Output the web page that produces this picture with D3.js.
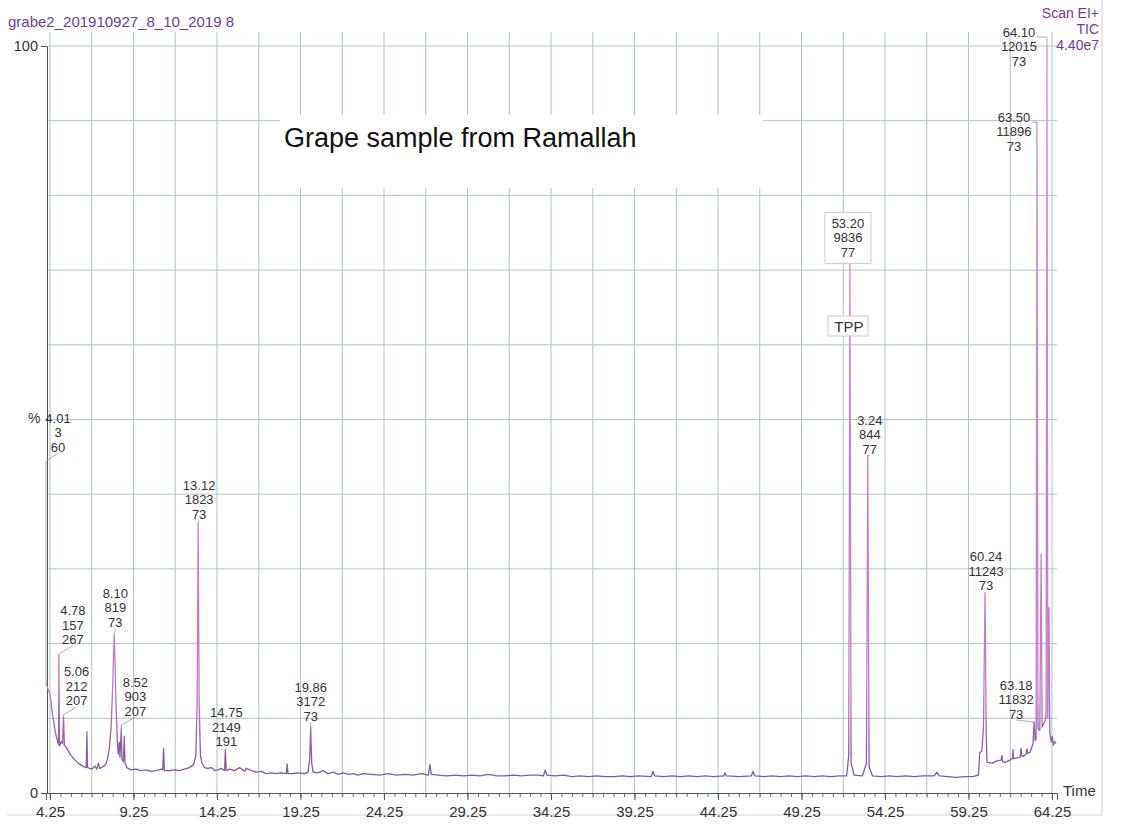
<!DOCTYPE html>
<html>
<head>
<meta charset="utf-8">
<script src="https://cdn.jsdelivr.net/npm/d3@7"></script>
<style>
    body { margin: 0; background: #fff; }
    svg text { font-family: "Liberation Sans", Arial, sans-serif; }
</style>
</head>
<body>
<svg id="chart" width="1124" height="827"></svg>
<script>
// TIC trace, [retention time (min), relative abundance (%)]
var trace = [
    [4.01,14.7],[4.25,13.2],[4.37,11.0],[4.47,9.6],[4.58,8.0],[4.70,6.9],[4.76,6.5],[4.78,18.5],[4.82,6.3],
    [4.92,6.9],[5.00,6.6],[5.06,10.2],[5.11,6.4],[5.25,6.0],[5.45,5.2],[5.70,4.5],[6.00,3.9],[6.30,3.5],
    [6.42,3.4],[6.46,8.2],[6.50,3.4],[6.75,3.2],[6.95,3.6],[7.05,3.2],[7.15,4.0],[7.22,3.3],[7.40,3.5],
    [7.58,3.8],[7.70,4.6],[7.80,6.0],[7.90,8.5],[8.00,14.0],[8.06,19.0],[8.10,21.1],[8.14,18.0],[8.20,12.0],
    [8.28,7.0],[8.34,5.2],[8.40,6.8],[8.44,4.8],[8.52,8.7],[8.56,4.5],[8.64,4.2],[8.70,7.6],[8.74,4.0],
    [8.85,3.4],[9.10,3.1],[9.40,3.2],[9.70,3.0],[10.0,3.1],[10.3,2.9],[10.6,3.0],[10.9,3.2],[11.00,3.1],
    [11.05,6.0],[11.10,3.0],[11.4,3.0],[11.7,3.1],[12.0,3.0],[12.3,3.2],[12.6,3.4],[12.85,3.8],[12.98,5.0],
    [13.06,12.0],[13.12,36.1],[13.18,12.0],[13.26,5.0],[13.35,4.0],[13.50,3.4],[13.70,3.3],[13.9,3.4],
    [14.1,3.0],[14.3,3.1],[14.5,3.3],[14.7,3.0],[14.75,5.8],[14.80,3.0],[15.0,3.2],[15.3,3.0],[15.6,3.4],
    [15.9,2.9],[16.0,3.3],[16.3,3.0],[16.6,2.8],[16.9,2.9],[17.2,2.6],[17.5,2.7],[17.8,2.6],[18.1,2.7],
    [18.40,2.6],[18.45,3.9],[18.5,2.6],[18.8,2.6],[19.1,2.7],[19.5,2.6],[19.70,2.8],[19.80,4.5],[19.86,8.8],
    [19.92,4.0],[20.0,2.8],[20.3,2.7],[20.6,3.0],[20.9,2.6],[21.2,2.8],[21.5,2.5],[21.8,2.7],[22.1,2.5],
    [22.4,2.6],[22.7,2.4],[23.0,2.6],[23.5,2.5],[24.0,2.4],[24.5,2.6],[25.0,2.4],[25.5,2.5],[26.0,2.4],
    [26.5,2.6],[26.90,2.4],[27.00,3.8],[27.08,2.5],[27.5,2.4],[28.0,2.3],[28.5,2.4],[29.0,2.3],[29.5,2.4],
    [30.0,2.3],[30.5,2.5],[31.0,2.3],[31.5,2.3],[32.0,2.4],[32.5,2.3],[33.0,2.4],[33.5,2.4],[33.80,2.3],
    [33.90,3.1],[34.0,2.4],[34.5,2.3],[35.0,2.4],[35.5,2.2],[36.0,2.3],[36.5,2.2],[37.0,2.3],[37.5,2.2],
    [38.0,2.2],[38.5,2.3],[39.0,2.2],[39.5,2.3],[40.25,2.2],[40.36,2.9],[40.45,2.3],[41.0,2.2],[41.5,2.3],
    [42.0,2.2],[42.5,2.3],[43.0,2.2],[43.5,2.3],[44.0,2.2],[44.6,2.3],[44.67,2.7],[44.75,2.3],[45.5,2.2],
    [46.25,2.3],[46.34,2.9],[46.45,2.3],[47.0,2.2],[47.5,2.3],[48.0,2.2],[48.5,2.3],[49.0,2.2],[49.5,2.3],
    [50.0,2.2],[50.5,2.3],[51.0,2.2],[51.5,2.3],[51.95,2.3],[52.08,5.0],[52.15,71.3],[52.22,4.0],[52.4,2.4],
    [52.9,2.3],[53.14,4.0],[53.22,45.2],[53.30,3.5],[53.5,2.3],[54.0,2.2],[54.5,2.3],[55.0,2.2],[55.5,2.3],
    [56.0,2.2],[56.5,2.3],[57.2,2.3],[57.36,2.8],[57.5,2.3],[58.0,2.2],[58.5,2.1],[59.0,2.2],[59.5,2.2],
    [59.85,2.4],[59.92,5.4],[60.05,5.6],[60.15,9.0],[60.24,26.8],[60.31,8.0],[60.36,4.1],[60.66,4.0],
    [60.96,4.3],[61.20,4.4],[61.25,5.0],[61.30,4.2],[61.43,4.1],[61.73,4.4],[61.88,4.6],[61.91,5.8],
    [61.95,4.6],[62.15,4.7],[62.35,4.8],[62.39,6.0],[62.44,5.0],[62.51,4.9],[62.70,5.2],[62.75,5.9],
    [62.80,5.3],[62.93,5.4],[63.05,6.2],[63.11,6.6],[63.18,9.5],[63.24,7.0],[63.30,7.4],[63.35,89.8],
    [63.41,8.6],[63.52,8.4],[63.60,32.0],[63.66,8.8],[63.80,9.5],[63.86,9.8],[63.90,11.0],[63.95,100],
    [64.00,10.0],[64.07,24.8],[64.12,8.0],[64.20,6.8],[64.27,7.6],[64.33,6.4],[64.40,6.9],[64.49,6.6]
];

// labelled peaks: apex time (as drawn) and the three-line annotation printed above it
var peakTimes = [4.01, 4.78, 5.06, 8.10, 8.52, 13.12, 14.75, 19.86, 52.15, 53.22, 60.24, 63.18, 63.35, 63.95];
var peakLabels = [
    ["4.01", "3", "60"],
    ["4.78", "157", "267"],
    ["5.06", "212", "207"],
    ["8.10", "819", "73"],
    ["8.52", "903", "207"],
    ["13.12", "1823", "73"],
    ["14.75", "2149", "191"],
    ["19.86", "3172", "73"],
    ["53.20", "9836", "77"],
    ["3.24", "844", "77"],
    ["60.24", "11243", "73"],
    ["63.18", "11832", "73"],
    ["63.50", "11896", "73"],
    ["64.10", "12015", "73"]
];

var majorTicks = ["4.25", "9.25", "14.25", "19.25", "24.25", "29.25", "34.25", "39.25", "44.25", "49.25", "54.25", "59.25", "64.25"];

var fileName = "grabe2_201910927_8_10_2019 8";
var scanInfo = ["Scan EI+", "TIC", "4.40e7"];
var sampleTitle = "Grape sample from Ramallah";
var compoundTag = "TPP";

// label placement relative to apex (px), leader style
var labelLayout = [
    {dx: 12, dy: -265, lead: "down"},
    {dx: 14, dy: -44, lead: "down"},
    {dx: 13, dy: -45, lead: "down"},
    {dx: 1, dy: -42, lead: "down"},
    {dx: 14, dy: -46, lead: "down"},
    {dx: 1, dy: -38, lead: "down"},
    {dx: 1, dy: -37, lead: "down"},
    {dx: 0, dy: -40, lead: "down"},
    {dx: -2, dy: -37, lead: "box"},
    {dx: 2, dy: -35, lead: "down"},
    {dx: 1, dy: -36, lead: "down"},
    {dx: -18, dy: -37, lead: "down"},
    {dx: -23, dy: -5, lead: "side"},
    {dx: -28, dy: -14, lead: "side"}
];

var width = 1124, height = 827;
var GRID = "#a9c5ca", INK = "#333", PURPLE = "#6a3f98";
var LINE_H = 14.5;

var svg = d3.select("#chart");

var x = d3.scaleLinear().domain([4.01, 64.55]).range([46, 1057]);
var y = d3.scaleLinear().domain([0, 100]).range([793, 46]);

// trace colour: grey-violet along the baseline, pink on the peaks
var grad = svg.append("defs").append("linearGradient")
    .attr("id", "traceGrad")
    .attr("gradientUnits", "userSpaceOnUse")
    .attr("x1", 0).attr("x2", 0)
    .attr("y1", y(0)).attr("y2", y(100));
grad.append("stop").attr("offset", 0).attr("stop-color", "#765a9c");
grad.append("stop").attr("offset", 0.06).attr("stop-color", "#8a5fa6");
grad.append("stop").attr("offset", 0.14).attr("stop-color", "#c27ac6");
grad.append("stop").attr("offset", 1).attr("stop-color", "#d58fd6");

// scanned page frame
svg.append("path")
    .attr("d", "M7,815 H1102 V0")
    .attr("fill", "none")
    .attr("stroke", "#d4d4d4");

// graph paper grid
var grid = svg.append("g").attr("class", "grid");
grid.selectAll("line.v")
    .data(d3.range(4.25, 64.26, 2.5))
    .enter().append("line")
    .attr("x1", function (d) { return x(d); })
    .attr("x2", function (d) { return x(d); })
    .attr("y1", 32).attr("y2", 798)
    .attr("stroke", GRID).attr("stroke-width", 1);
grid.selectAll("line.h")
    .data(d3.range(10, 101, 10))
    .enter().append("line")
    .attr("x1", 48).attr("x2", 1057)
    .attr("y1", function (d) { return y(d); })
    .attr("y2", function (d) { return y(d); })
    .attr("stroke", GRID).attr("stroke-width", 1);

// white patch behind the sample title
svg.append("rect")
    .attr("x", 280).attr("y", 115).attr("width", 483).attr("height", 73)
    .attr("fill", "#fff");
svg.append("text")
    .attr("x", 284).attr("y", 147)
    .attr("font-size", 27).attr("fill", "#111")
    .text(sampleTitle);

// axes
var minor = d3.range(4.25, 64.5, 0.625);
svg.append("g")
    .attr("transform", "translate(0," + y(0) + ")")
    .call(d3.axisBottom(x).tickValues(minor).tickSize(4).tickFormat(""))
    .call(function (g) {
        g.select(".domain").remove();
        g.selectAll("line").attr("stroke", "#667");
    });
var xAxis = svg.append("g")
    .attr("transform", "translate(0," + y(0) + ")")
    .call(d3.axisBottom(x).tickValues(majorTicks.map(Number)).tickSize(7).tickPadding(6)
        .tickFormat(d3.format(".2f")));
xAxis.select(".domain").attr("stroke", "#555");
xAxis.selectAll("line").attr("stroke", "#555");
xAxis.selectAll("text").attr("font-size", 15).attr("fill", INK)
    .attr("font-family", "Liberation Sans, Arial, sans-serif");

var yAxis = svg.append("g")
    .attr("transform", "translate(47,0)")
    .call(d3.axisLeft(y).tickValues([0, 100]).tickSize(6).tickPadding(3));
yAxis.select(".domain").attr("stroke", "#555");
yAxis.selectAll("line").attr("stroke", "#555");
yAxis.selectAll("text").attr("font-size", 14.5).attr("fill", INK)
    .attr("font-family", "Liberation Sans, Arial, sans-serif");

svg.append("text").attr("x", 28).attr("y", 423).attr("font-size", 14).attr("fill", INK).text("%");
svg.append("text").attr("x", 1063).attr("y", 796).attr("font-size", 15).attr("fill", INK).text("Time");

// header
svg.append("text").attr("x", 8).attr("y", 27).attr("font-size", 15).attr("fill", PURPLE).text(fileName);
svg.selectAll("text.scan")
    .data(scanInfo)
    .enter().append("text")
    .attr("class", "scan")
    .attr("x", 1099)
    .attr("y", function (d, i) { return 18 + i * 16; })
    .attr("text-anchor", "end")
    .attr("font-size", 14)
    .attr("fill", PURPLE)
    .text(function (d) { return d; });

// trace
var line = d3.line()
    .x(function (d) { return x(d[0]); })
    .y(function (d) { return y(d[1]); });

svg.append("path")
    .datum(trace)
    .attr("fill", "none")
    .attr("stroke", "url(#traceGrad)")
    .attr("stroke-width", 1.3)
    .attr("stroke-linejoin", "round")
    .attr("d", line);

// peak annotations
function apexOf(t) {
    var best = trace[0];
    trace.forEach(function (p) {
        if (Math.abs(p[0] - t) < Math.abs(best[0] - t)) best = p;
    });
    return best;
}

var notes = svg.append("g").attr("class", "notes");

peakTimes.forEach(function (t, i) {
    var p = apexOf(t);
    var px = x(p[0]), py = y(p[1]);
    var lay = labelLayout[i];
    var lx = px + lay.dx, ly = py + lay.dy;
    var lines = peakLabels[i];
    var bottom = ly + (lines.length - 1) * LINE_H + 6;

    if (lay.lead === "down") {
        var ey = Math.min(bottom + 8, py);
        notes.append("path")
            .attr("d", "M" + lx + "," + bottom + " L" + px + "," + ey + " L" + px + "," + py)
            .attr("fill", "none").attr("stroke", "#999").attr("stroke-width", 0.8);
    } else if (lay.lead === "side") {
        var sy = ly + 5;
        notes.append("path")
            .attr("d", "M" + (lx + 18) + "," + sy + " H" + px + " V" + py)
            .attr("fill", "none").attr("stroke", "#999").attr("stroke-width", 0.8);
    } else {
        notes.append("rect")
            .attr("x", lx - 23).attr("y", ly - 11)
            .attr("width", 46).attr("height", (lines.length - 1) * LINE_H + 22)
            .attr("fill", "#fff").attr("stroke", "#ccc");
    }

    notes.selectAll(null)
        .data(lines)
        .enter().append("text")
        .attr("x", lx)
        .attr("y", function (d, j) { return ly + 4.5 + j * LINE_H; })
        .attr("text-anchor", "middle")
        .attr("font-size", 13)
        .attr("fill", INK)
        .text(function (d) { return d; });
});

// compound tag on the internal standard peak
var tpp = apexOf(peakTimes[8]);
var tx = x(tpp[0]) - 1, ty = 326;
notes.append("rect")
    .attr("x", tx - 21).attr("y", ty - 10).attr("width", 40).attr("height", 20)
    .attr("fill", "#fff").attr("stroke", "#ccc");
notes.append("text")
    .attr("x", tx).attr("y", ty + 5.5)
    .attr("text-anchor", "middle")
    .attr("font-size", 15).attr("fill", INK)
    .text(compoundTag);
</script>
</body>
</html>
